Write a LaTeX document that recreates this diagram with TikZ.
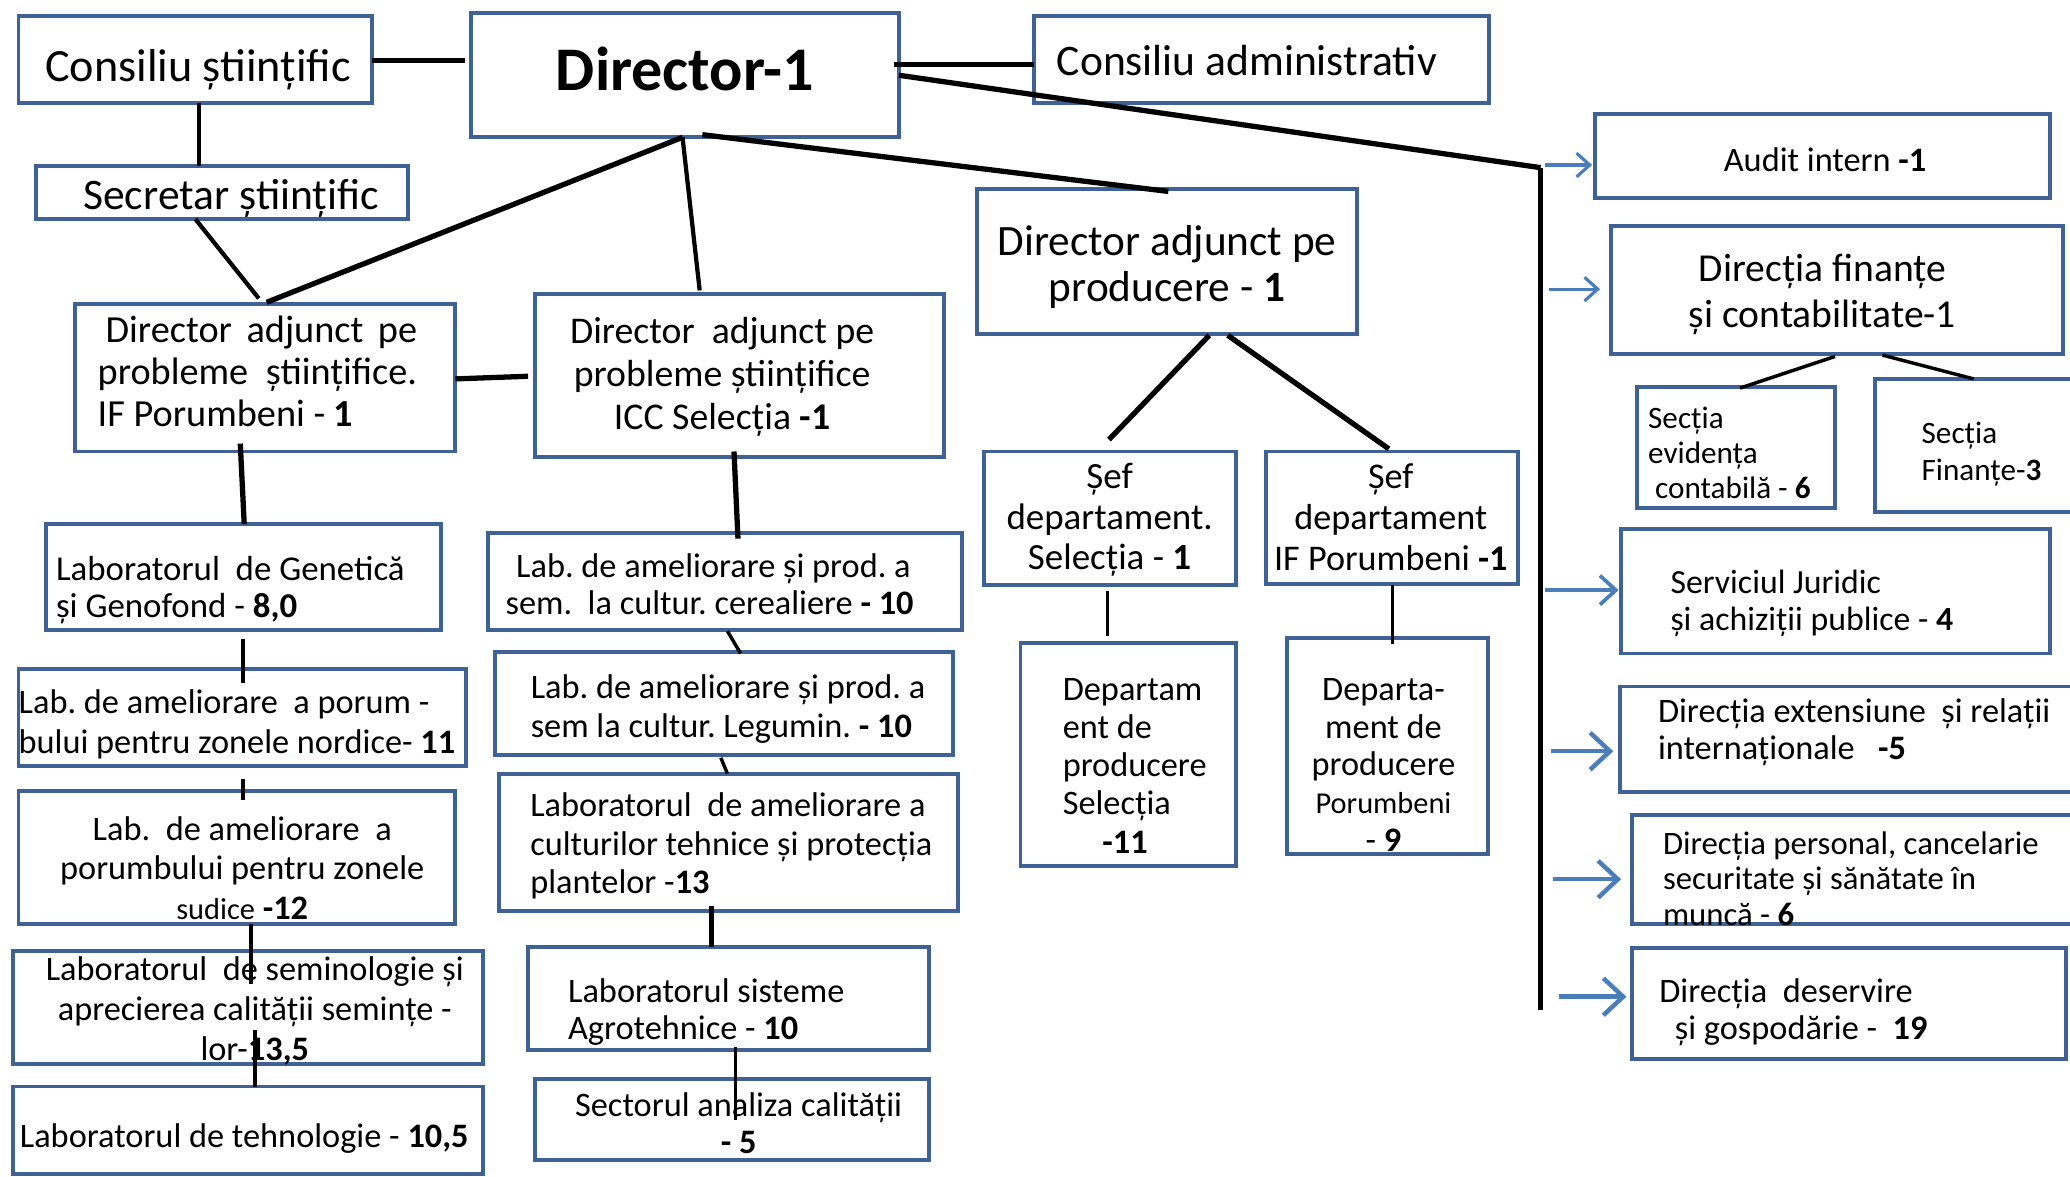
\documentclass[tikz,border=0pt]{standalone}
\usepackage{fontspec}
\setmainfont{Carlito}
\usetikzlibrary{arrows.meta,calc}
\frenchspacing
\definecolor{bcol}{HTML}{3E6295}
\definecolor{acol}{HTML}{4A7EBB}
\newcommand\fsz[2]{\fontsize{#1}{#2}\selectfont}
\newsavebox\tbbox
\newdimen\tbu \tbu=0.5pt
\newcommand\tb[4]{%
 \sbox\tbbox{\begin{tabular}{@{}#3@{}}#4\end{tabular}}%
 \makebox[0pt]{\hspace*{#1pt}\raisebox{\dimexpr -#2\tbu-3\tbu-(\ht\tbbox-\dp\tbbox)/2\relax}[0pt][0pt]{\usebox\tbbox}}}
\newcommand\bx[6]{\node[obox,#6,minimum width={(#4-#2)*0.5pt},minimum height={(#5-#3)*0.5pt}] (#1) at ({(#2+#4)/2},{(#3+#5)/2})}
\begin{document}
\begin{tikzpicture}[x=0.5pt,y=-0.5pt,
 obox/.style={draw=bcol,line width=1.5pt,fill=white,inner sep=0pt,outer sep=0pt,anchor=center,text=black},
 cthick/.style={draw=black,line width=2pt},
 cmed/.style={draw=black,line width=1.6pt},
 cthin/.style={draw=black,line width=1.3pt},
 arS/.style={draw=acol,line width=1.2pt,-{Straight Barb[length=5pt,width=9pt]}},
 arM/.style={draw=acol,line width=1.4pt,-{Straight Barb[length=6pt,width=11pt]}},
 arL/.style={draw=acol,line width=1.7pt,-{Straight Barb[length=7.5pt,width=14pt]}}]
\useasboundingbox (0,0) rectangle (1568,891);
% boxes
\bx{cs}{14}{12}{282}{78}{font=\fsz{17.5}{21}}{\tb{2}{5}{c}{Consiliu științific}};
\bx{dir}{357}{10}{681}{104}{font=\fsz{23.5}{28}\bfseries}{\tb{0}{-3}{c}{Director-1}};
\bx{ca}{783}{12}{1128}{78}{font=\fsz{16.5}{20}}{\tb{-11}{1}{c}{Consiliu administrativ}};
\bx{ss}{27}{126}{309}{166}{font=\fsz{16.5}{20}}{\tb{7}{2}{c}{Secretar științific}};
\bx{ifp}{57}{230}{345}{342}{font=\fsz{14.5}{16}}{\tb{-6}{-4}{l}{\hspace*{3pt}\makebox[118pt][s]{Director adjunct pe}\\ \makebox[121pt][s]{probleme științifice.}\\ IF Porumbeni - \textbf{1}}};
\bx{icc}{405}{223}{715}{346}{font=\fsz{14.3}{16.25}}{\tb{-13}{-1}{c}{Director\ \ adjunct pe\\ probleme științifice\\ ICC Selecția \textbf{-1}}};
\bx{dp}{740}{143}{1028}{253}{font=\fsz{16.4}{17.5}}{\tb{0}{3}{c}{Director adjunct pe\\ producere - \textbf{1}}};
\bx{audit}{1208}{86}{1553}{150}{font=\fsz{13}{15.5}}{\tb{2}{3}{c}{Audit intern \textbf{-1}}};
\bx{fin}{1220}{171}{1563}{268}{font=\fsz{15}{17.5}}{\tb{-11}{1}{c}{Direcția finanțe\\ și contabilitate-1}};
\bx{sev}{1240}{293}{1390}{385}{font=\fsz{11.8}{13.3}}{\tb{-5}{4}{l}{Secția\\ evidența\\ \ contabilă - \textbf{6}}};
\bx{sfin}{1420}{287}{1572}{388}{font=\fsz{11.8}{14}}{\tb{5}{4}{l}{Secția\\ Finanțe-\textbf{3}}};
\bx{jur}{1228}{401}{1553}{495}{font=\fsz{12.8}{14}}{\tb{-18}{7}{l}{Serviciul Juridic\\ și achiziții publice - \textbf{4}}};
\bx{ext}{1227}{520}{1572}{600}{font=\fsz{13}{14}}{\tb{5}{-7}{l}{Direcția extensiune\ \ și relații\\ internaționale\ \ \ \textbf{-5}}};
\bx{pers}{1236}{617}{1572}{700}{font=\fsz{12.4}{13.5}}{\tb{-2}{7}{l}{Direcția personal, cancelarie\\ securitate și sănătate în\\ muncă - \textbf{6}}};
\bx{des}{1236}{718}{1565}{802}{font=\fsz{13}{14}}{\tb{-42}{5}{l}{Direcția\ \ deservire\\ \ \ și gospodărie -\ \ \textbf{19}}};
\bx{sefs}{745}{342}{936}{443}{font=\fsz{14}{15.5}}{\tb{0}{-1}{c}{Șef\\ departament.\\ Selecția - \textbf{1}}};
\bx{sefp}{959}{342}{1150}{442}{font=\fsz{13.7}{15.5}}{\tb{-1}{0}{c}{Șef\\ departament\\ IF Porumbeni \textbf{-1}}};
\bx{dps}{773}{487}{936}{656}{font=\fsz{13}{14.5}}{\tb{5}{8}{l}{Departam\\ ent de\\ producere\\ Selecția\\ \hspace*{15pt}\textbf{-11}}};
\bx{dpp}{975}{483}{1127}{647}{font=\fsz{13}{14.3}}{\tb{-3}{14}{c}{Departa-\\ ment de\\ producere\\ {\fsz{11.5}{14.3}Porumbeni}\\ - \textbf{9}}};
\bx{gen}{35}{397}{334}{477}{font=\fsz{13.2}{14}}{\tb{-10}{8}{l}{Laboratorul\ \ de Genetică\\ și Genofond - \textbf{8,0}}};
\bx{nord}{14}{507}{353}{580}{font=\fsz{13}{15}}{\tb{-4}{3}{l}{Lab. de ameliorare\ \ a porum -\\ bului pentru zonele nordice- \textbf{11}}};
\bx{sud}{14}{599}{345}{700}{font=\fsz{13}{15}}{\tb{4}{8}{c}{Lab.\ \ de ameliorare\ \ a\\ porumbului pentru zonele\\ {\fsz{11.5}{15}sudice} \textbf{-12}}};
\bx{sem}{10}{720}{366}{806}{font=\fsz{13}{15}}{\tb{5}{1}{c}{Laboratorul\ \ de seminologie și\\ aprecierea calității semințe -\\ lor-\textbf{13,5}}};
\bx{teh}{10}{823}{366}{889}{font=\fsz{13}{15.5}}{\tb{-3}{4}{c}{Laboratorul de tehnologie - \textbf{10,5}}};
\bx{cer}{370}{404}{729}{477}{font=\fsz{13}{14}}{\tb{-12}{2}{l}{\hspace*{4pt}Lab. de ameliorare și prod. a\\ sem.\ \ la cultur. cerealiere \textbf{- 10}}};
\bx{leg}{375}{494}{722}{572}{font=\fsz{13}{15}}{\tb{3}{2}{l}{Lab. de ameliorare și prod. a\\ sem la cultur. Legumin. \textbf{- 10}}};
\bx{tec}{378}{586}{726}{690}{font=\fsz{13}{14.5}}{\tb{2}{1}{l}{Laboratorul\ \ de ameliorare a\\ culturilor tehnice și protecția\\ plantelor -\textbf{13}}};
\bx{agr}{400}{717}{704}{795}{font=\fsz{13}{14}}{\tb{-17}{9}{l}{Laboratorul sisteme\\ Agrotehnice - \textbf{10}}};
\bx{sec}{405}{817}{704}{879}{font=\fsz{13}{14}}{\tb{5}{3}{c}{Sectorul analiza calității\\ \textbf{- 5}}};
% free-end coordinates
\coordinate (bt) at (1167,127);
\coordinate (bb) at (1167,765);
\coordinate (s1) at (1170,125);
\coordinate (s2) at (1173,219);
\coordinate (s3) at (1170,447);
\coordinate (s4) at (1175,569);
\coordinate (s5) at (1176,666);
\coordinate (s6) at (1181,755);
% connectors
\draw[cthick] ($(cs.north west)+(268,34)$) -- ($(dir.north west)+(-5,36)$);
\draw[cthick] ($(dir.north west)+(320,39)$) -- ($(ca.north west)+(0,37)$);
\draw[cthick] ($(dir.north west)+(324,47)$) -- (bt);
\draw[cmed] ($(cs.north west)+(137,66)$) -- ($(ss.north west)+(124,0)$);
\draw[cmed] ($(ss.north west)+(121,40)$) -- ($(ifp.north west)+(139,-4)$);
\draw[cthick] ($(dir.north west)+(160,94)$) -- ($(ifp.north west)+(145,-1)$);
\draw[cmed] ($(dir.north west)+(160,94)$) -- ($(icc.north west)+(125,-3)$);
\draw[cthick] ($(dir.north west)+(175,92)$) -- ($(dp.north west)+(145,2)$);
\draw[cthick] ($(ifp.north west)+(288,57)$) -- ($(icc.north west)+(-5,62)$);
\draw[cthick] ($(ifp.north west)+(125,106)$) -- ($(gen.north west)+(150,0)$);
\draw[cthick] ($(icc.north west)+(151,119)$) -- ($(cer.north west)+(189,4)$);
\draw[cthin] ($(cer.north west)+(181,74)$) -- ($(leg.north west)+(186,1)$);
\draw[cthin] ($(leg.north west)+(171,80)$) -- ($(tec.north west)+(173,0)$);
\draw[cmed] ($(tec.north west)+(161,100)$) -- ($(agr.north west)+(139,0)$);
\draw[cthin] ($(agr.north west)+(157,76)$) -- ($(sec.north west)+(152,31)$);
\draw[cmed] ($(gen.north west)+(149,87)$) -- ($(nord.north west)+(170,10)$);
\draw[cmed] ($(nord.north west)+(170,83)$) -- ($(sud.north west)+(170,7)$);
\draw[cmed] ($(sud.north west)+(176,101)$) -- ($(sem.north west)+(180,25)$);
\draw[cmed] ($(sem.north west)+(183,60)$) -- ($(teh.north west)+(183,0)$);
\draw[cthick] ($(dp.north west)+(176,111)$) -- ($(sefs.north west)+(95,-9)$);
\draw[cthick] ($(dp.north west)+(190,111)$) -- ($(sefp.north west)+(93,-2)$);
\draw[cthin] ($(sefs.north west)+(94,106)$) -- ($(dps.north west)+(66,-5)$);
\draw[cthin] ($(sefp.north west)+(96,101)$) -- ($(dpp.north west)+(80,5)$);
\draw[cthin] ($(fin.north west)+(170,99)$) -- ($(sev.north west)+(78,1)$);
\draw[cthin] ($(fin.north west)+(206,98)$) -- ($(sfin.north west)+(75,0)$);
\draw[cthick] (bt) -- (bb);
% arrows
\draw[arS] (s1) -- ($(audit.north west)+(-2,39)$);
\draw[arS] (s2) -- ($(fin.north west)+(-8,48)$);
\draw[arM] (s3) -- ($(jur.north west)+(-2,46)$);
\draw[arL] (s4) -- ($(ext.north west)+(-5,49)$);
\draw[arL] (s5) -- ($(pers.north west)+(-8,49)$);
\draw[arL] (s6) -- ($(des.north west)+(-4,37)$);
\end{tikzpicture}
\end{document}
